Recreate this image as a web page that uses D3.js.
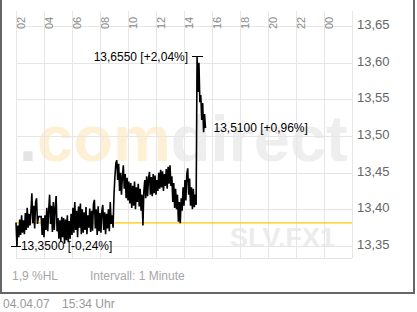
<!DOCTYPE html>
<html>
<head>
<meta charset="utf-8">
<script src="https://cdn.jsdelivr.net/npm/d3@7"></script>
<style>
  body { margin: 0; background: #fff; }
  svg { display: block; font-family: "Liberation Sans", Arial, sans-serif; }
</style>
</head>
<body>
<svg id="chart" width="417" height="312"></svg>
<script>
const hourTicks = ["02", "04", "06", "08", "10", "12", "14", "16", "18", "20", "22", "00"];
const priceTicks = [13.35, 13.40, 13.45, 13.50, 13.55, 13.60, 13.65];
const startHour = 2;
const stepMin = 4;
const prevClose = 13.3815;

// minute prices, one every 4 minutes from 02:00
const prices = [
  13.382, 13.350, 13.378, 13.362, 13.386, 13.365, 13.392, 13.368, 13.385, 13.366,
  13.395, 13.372, 13.402, 13.375, 13.394, 13.378, 13.397, 13.422, 13.381, 13.405,
  13.374, 13.410, 13.415, 13.380, 13.390, 13.390, 13.390, 13.390, 13.365, 13.388,
  13.362, 13.392, 13.372, 13.402, 13.370, 13.398, 13.420, 13.380, 13.405, 13.369,
  13.410, 13.372, 13.402, 13.418, 13.370, 13.388, 13.360, 13.385, 13.357, 13.390,
  13.362, 13.388, 13.353, 13.386, 13.358, 13.392, 13.355, 13.384, 13.360, 13.394,
  13.365, 13.402, 13.368, 13.410, 13.372, 13.398, 13.362, 13.404, 13.375, 13.408,
  13.366, 13.400, 13.368, 13.396, 13.372, 13.403, 13.366, 13.392, 13.375, 13.401,
  13.369, 13.398, 13.371, 13.407, 13.413, 13.374, 13.400, 13.365, 13.404, 13.370,
  13.395, 13.368, 13.398, 13.406, 13.372, 13.396, 13.366, 13.394, 13.374, 13.400,
  13.370, 13.410, 13.380, 13.392, 13.375, 13.420, 13.445, 13.463, 13.467, 13.440,
  13.462, 13.425, 13.450, 13.420, 13.445, 13.460, 13.428, 13.448, 13.415, 13.443,
  13.412, 13.438, 13.408, 13.436, 13.402, 13.432, 13.405, 13.438, 13.400, 13.430,
  13.410, 13.435, 13.404, 13.428, 13.398, 13.420, 13.378, 13.425, 13.440, 13.415,
  13.445, 13.418, 13.442, 13.451, 13.420, 13.444, 13.418, 13.448, 13.422, 13.446,
  13.420, 13.440, 13.425, 13.450, 13.428, 13.454, 13.430, 13.452, 13.425, 13.448,
  13.432, 13.455, 13.428, 13.458, 13.435, 13.460, 13.432, 13.445, 13.410, 13.436,
  13.402, 13.428, 13.400, 13.420, 13.383, 13.410, 13.381, 13.415, 13.398, 13.430,
  13.405, 13.440, 13.412, 13.448, 13.456, 13.420, 13.442, 13.405, 13.430, 13.400,
  13.428, 13.403, 13.420, 13.406, 13.608, 13.560, 13.600, 13.546, 13.556, 13.522,
  13.545, 13.505, 13.530, 13.511
];

const highValue = 13.655, highPct = 2.04;
const lowValue = 13.35, lowPct = -0.24;
const lastValue = 13.51, lastPct = 0.96;

var de = d3.formatLocale({ decimal: ",", thousands: ".", grouping: [3], currency: ["", " €"], minus: "-" });
var fmtTick = de.format(".2f");
var fmtPrice = de.format(".4f");
var fmtPct = de.format("+.2f");
function label(v, p) {
  return fmtPrice(v) + " [" + fmtPct(p) + "%]";
}

var svg = d3.select("#chart");
var plot = { left: 16, right: 352, top: 11, bottom: 258 };

var x = d3.scaleLinear().domain([2, 26]).range([plot.left, plot.right]);
var y = d3.scaleLinear().domain([13.35, 13.65]).range([246, 26]);

var times = prices.map((p, i) => startHour + i * stepMin / 60);

// watermarks
var logo = svg.append("text")
  .attr("x", 19)
  .attr("y", 161)
  .style("font-size", "65px")
  .style("font-weight", "bold");
logo.append("tspan").attr("fill", "#e4e4e4").text(".");
logo.append("tspan").attr("fill", "#fdf0d4").text("com");
logo.append("tspan").attr("fill", "#eeeeee").text("direct");

svg.append("text")
  .attr("x", 230)
  .attr("y", 247)
  .attr("fill", "#ececec")
  .style("font-size", "27px")
  .style("font-weight", "bold")
  .text("SLV.FX1");

// grid
var grid = svg.append("g")
  .attr("stroke", "#e6e6e6")
  .attr("stroke-width", 1)
  .attr("shape-rendering", "crispEdges");

grid.selectAll(".h").data(priceTicks).enter().append("line")
  .attr("x1", plot.left).attr("x2", plot.right)
  .attr("y1", d => Math.round(y(d)) + 0.5).attr("y2", d => Math.round(y(d)) + 0.5);

grid.append("line")
  .attr("x1", plot.left).attr("x2", plot.right)
  .attr("y1", plot.bottom).attr("y2", plot.bottom);

var vHours = d3.range(hourTicks.length + 1).map(k => startHour + 2 * k);
grid.selectAll(".v").data(vHours).enter().append("line")
  .attr("x1", d => x(d)).attr("x2", d => x(d))
  .attr("y1", plot.top).attr("y2", plot.bottom);

// hour labels
svg.selectAll(".hour").data(hourTicks).enter().append("text")
  .attr("transform", (d, k) => `translate(${x(startHour + 2 * k) + 9},29) rotate(-90)`)
  .attr("fill", "#8a8a8a")
  .style("font-size", "11px")
  .text(d => d);

// price labels
svg.selectAll(".price").data(priceTicks).enter().append("text")
  .attr("x", 357)
  .attr("y", d => y(d))
  .attr("dy", "0.23em")
  .attr("fill", "#666")
  .style("font-size", "13px")
  .text(d => fmtTick(d));

// previous close
svg.append("line")
  .attr("x1", plot.left).attr("x2", plot.right)
  .attr("y1", y(prevClose)).attr("y2", y(prevClose))
  .attr("stroke", "#ffc800")
  .attr("stroke-width", 1.4);

// price line
var line = d3.line()
  .x((d, i) => x(times[i]))
  .y(d => y(d));

svg.append("path")
  .datum(prices)
  .attr("fill", "none")
  .attr("stroke", "#000")
  .attr("stroke-width", 1.6)
  .attr("stroke-linejoin", "miter")
  .attr("d", line);

// high / low / last annotations
var hi = d3.maxIndex(prices);
var lo = d3.minIndex(prices);
var la = prices.length - 1;

svg.append("line")
  .attr("x1", x(times[hi]) - 5).attr("x2", x(times[hi]) + 6)
  .attr("y1", y(prices[hi])).attr("y2", y(prices[hi]))
  .attr("stroke", "#000").attr("shape-rendering", "crispEdges");
svg.append("text")
  .attr("x", x(times[hi]) - 9)
  .attr("y", y(prices[hi]))
  .attr("dy", "0.35em")
  .attr("text-anchor", "end")
  .style("font-size", "12px")
  .text(label(highValue, highPct));

svg.append("line")
  .attr("x1", x(times[lo]) - 6).attr("x2", x(times[lo]) + 4)
  .attr("y1", y(prices[lo])).attr("y2", y(prices[lo]))
  .attr("stroke", "#000").attr("shape-rendering", "crispEdges");
svg.append("text")
  .attr("x", x(times[lo]) + 4)
  .attr("y", y(prices[lo]))
  .attr("dy", "0.3em")
  .style("font-size", "12px")
  .text(label(lowValue, lowPct));

svg.append("text")
  .attr("x", x(times[la]) + 8)
  .attr("y", y(prices[la]))
  .attr("dy", "0.35em")
  .style("font-size", "12px")
  .text(label(lastValue, lastPct));

// footer
svg.append("text").attr("x", 12).attr("y", 280)
  .attr("fill", "#a6a6a6").style("font-size", "12px").text("1,9 %HL");
svg.append("text").attr("x", 90).attr("y", 280)
  .attr("fill", "#a6a6a6").style("font-size", "12px").text("Intervall: 1 Minute");
svg.append("text").attr("x", 3).attr("y", 308)
  .attr("fill", "#999").style("font-size", "12px").text("04.04.07");
svg.append("text").attr("x", 62).attr("y", 308)
  .attr("fill", "#999").style("font-size", "12px").text("15:34 Uhr");

// frame
var frame = svg.append("g").attr("stroke", "#666").attr("stroke-width", 2);
frame.append("line").attr("x1", 1).attr("x2", 1).attr("y1", 0).attr("y2", 294);
frame.append("line").attr("x1", 414).attr("x2", 414).attr("y1", 0).attr("y2", 294);
frame.append("line").attr("x1", 0).attr("x2", 415).attr("y1", 293).attr("y2", 293);
</script>
</body>
</html>
